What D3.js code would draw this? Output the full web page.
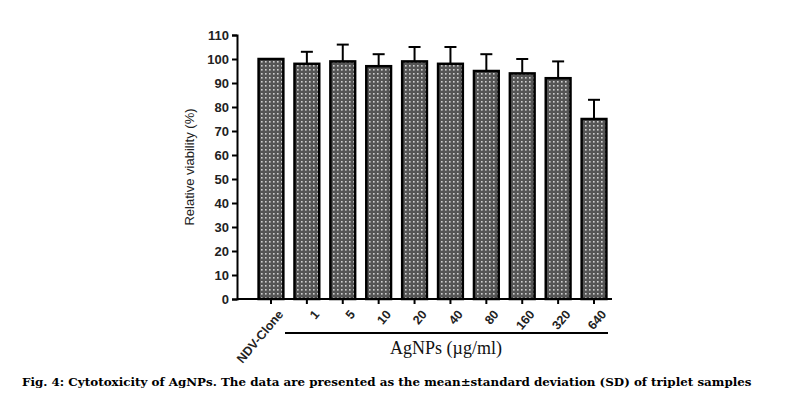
<!DOCTYPE html><html><head><script src="https://d3js.org/d3.v7.min.js"></script>
<style>body{margin:0;background:#fff}</style></head><body><svg id="c" width="788" height="400"></svg>
<script>
const categories=["NDV-Clone","1","5","10","20","40","80","160","320","640"];
const values=[100,98,99,97,99,98,95,94,92,75];
const errors=[0,5,7,5,6,7,7,6,7,8];
const yTicks=[0,10,20,30,40,50,60,70,80,90,100,110];
const svg=d3.select("#c");
const defs=svg.append("defs");
const p=defs.append("pattern").attr("id","pt").attr("patternUnits","userSpaceOnUse").attr("width",4).attr("height",4);
p.append("rect").attr("width",4).attr("height",4).attr("fill","#555");
p.append("rect").attr("x",1).attr("y",1).attr("width",1.6).attr("height",1.6).attr("fill","#d0d0d0");
const x=d3.scaleBand().domain(categories).range([255,610]).paddingInner(0.31).paddingOuter(0.1);
const y=d3.scaleLinear().domain([0,110]).range([299,35]);
const g=svg.append("g");
g.selectAll(".e").data(categories).join("g").each(function(c,i){
 if(!errors[i])return;
 const cx=x(c)+x.bandwidth()/2,s=d3.select(this);
 s.append("line").attr("x1",cx).attr("x2",cx).attr("y1",y(values[i])).attr("y2",y(values[i]+errors[i])).attr("stroke","#000").attr("stroke-width",2);
 s.append("line").attr("x1",cx-6).attr("x2",cx+6).attr("y1",y(values[i]+errors[i])).attr("y2",y(values[i]+errors[i])).attr("stroke","#000").attr("stroke-width",2);
});
g.selectAll("rect.b").data(categories).join("rect").attr("class","b").attr("x",d=>x(d)).attr("width",x.bandwidth())
 .attr("y",(d,i)=>y(values[i])).attr("height",(d,i)=>y(0)-y(values[i])).attr("fill","url(#pt)").attr("stroke","#000").attr("stroke-width",2.5);
const ya=svg.append("g").attr("transform","translate(237,0)").call(d3.axisLeft(y).tickValues(yTicks).tickSize(5));
ya.select(".domain").attr("stroke-width",2);ya.selectAll(".tick line").attr("stroke-width",2);
ya.selectAll("text").attr("font-family","Arial, Liberation Sans").attr("font-size",13).attr("font-weight","bold").attr("fill","#222");
svg.append("line").attr("x1",237).attr("x2",612).attr("y1",299).attr("y2",299).attr("stroke","#000").attr("stroke-width",2);
const xa=svg.append("g").attr("transform","translate(0,299)").call(d3.axisBottom(x).tickSize(5));
xa.select(".domain").remove();xa.selectAll(".tick line").attr("stroke-width",2);
xa.selectAll("text").attr("font-family","Arial, Liberation Sans").attr("font-size",12.5).attr("font-weight","bold").attr("fill","#222")
 .attr("text-anchor","end").attr("dy","0.3em").attr("transform","translate(4,8) rotate(-50)");
svg.append("text").attr("transform","translate(194,167) rotate(-90)").attr("text-anchor","middle").attr("font-family","Arial, Liberation Sans").attr("font-size",13).attr("fill","#222").text("Relative viability (%)");
svg.append("line").attr("x1",285).attr("x2",608).attr("y1",333).attr("y2",333).attr("stroke","#000").attr("stroke-width",2);
svg.append("text").attr("x",446).attr("y",354).attr("text-anchor","middle").attr("font-family","Liberation Serif, serif").attr("font-size",18).attr("fill","#111").text("AgNPs (µg/ml)");
svg.append("text").attr("x",22).attr("y",386).attr("font-family","DejaVu Serif, serif").attr("font-weight","bold").attr("font-size",11.9).attr("fill","#000").text("Fig. 4: Cytotoxicity of AgNPs. The data are presented as the mean±standard deviation (SD) of triplet samples");
</script></body></html>
